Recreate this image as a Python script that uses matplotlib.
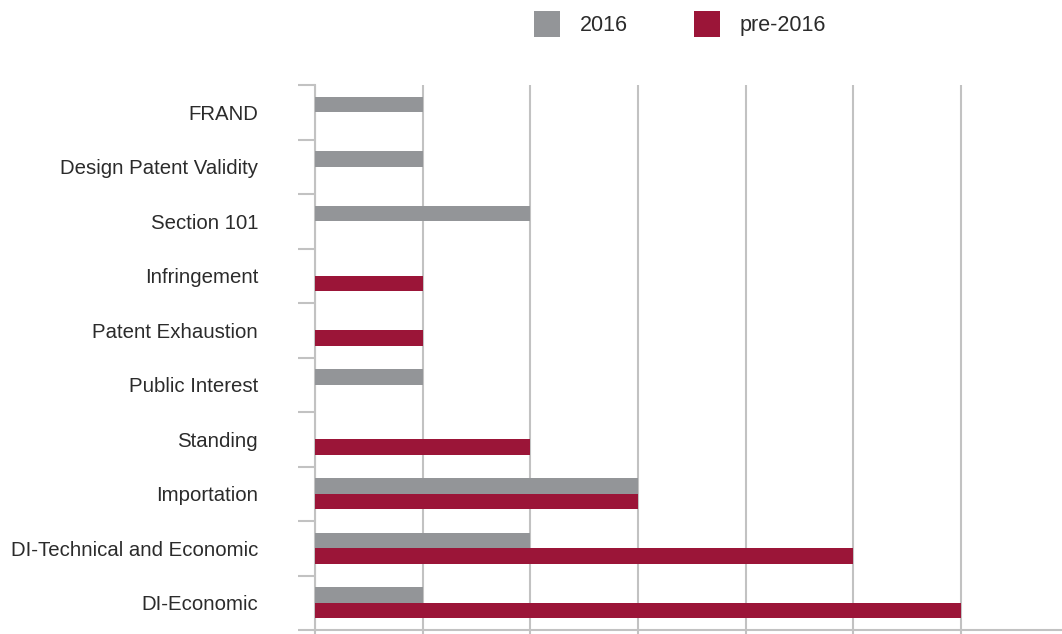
import matplotlib.pyplot as plt
import numpy as np

plt.rcParams['font.family'] = ['Liberation Sans', 'DejaVu Sans']

# categories listed top to bottom
categories = ['FRAND', 'Design Patent Validity', 'Section 101', 'Infringement',
              'Patent Exhaustion', 'Public Interest', 'Standing', 'Importation',
              'DI-Technical and Economic', 'DI-Economic']
vals_2016 = [1, 1, 2, 0, 0, 1, 0, 3, 2, 1]
vals_pre = [0, 0, 0, 1, 1, 0, 2, 3, 5, 6]

gray = '#939598'
red = '#9b1538'
line_col = '#c2c2c2'

fig = plt.figure(figsize=(10.62, 6.34), dpi=100)
ax = fig.add_axes([315 / 1062, 1 - 630 / 634, 1 - 315 / 1062, (630 - 85) / 634])

y = np.arange(len(categories))[::-1]
h = 0.28
ax.barh(y + h / 2, vals_2016, height=h, color=gray, label='2016', zorder=3)
ax.barh(y - h / 2, vals_pre, height=h, color=red, label='pre-2016', zorder=3)

ax.set_xlim(0, 6.94)
ax.set_ylim(-0.5, len(categories) - 0.5)

ax.set_yticks(y)
ax.set_yticklabels(categories, fontsize=14.7, color='#2b2b2b')
ax.set_yticks(np.arange(-0.5, len(categories)), minor=True)
ax.tick_params(axis='y', which='major', length=0, pad=41)
ax.tick_params(axis='y', which='minor', length=12, width=1.5, color=line_col)

ax.set_xticks(np.arange(0, 7))
ax.set_xticklabels([])
ax.tick_params(axis='x', length=3, width=1.5, color=line_col)
ax.grid(axis='x', color=line_col, linewidth=1.5, zorder=0)

for s in ['top', 'right']:
    ax.spines[s].set_visible(False)
for s in ['left', 'bottom']:
    ax.spines[s].set_color(line_col)
    ax.spines[s].set_linewidth(1.5)

fig.legend(loc='upper left', bbox_to_anchor=(534 / 1062, 1 - 11 / 634), ncol=2,
           frameon=False, fontsize=15.5, handlelength=1.21, handleheight=1.5,
           handletextpad=0.9, columnspacing=3.1, borderpad=0, borderaxespad=0,
           labelcolor='#2b2b2b')

fig.savefig('out.png', dpi=100)
